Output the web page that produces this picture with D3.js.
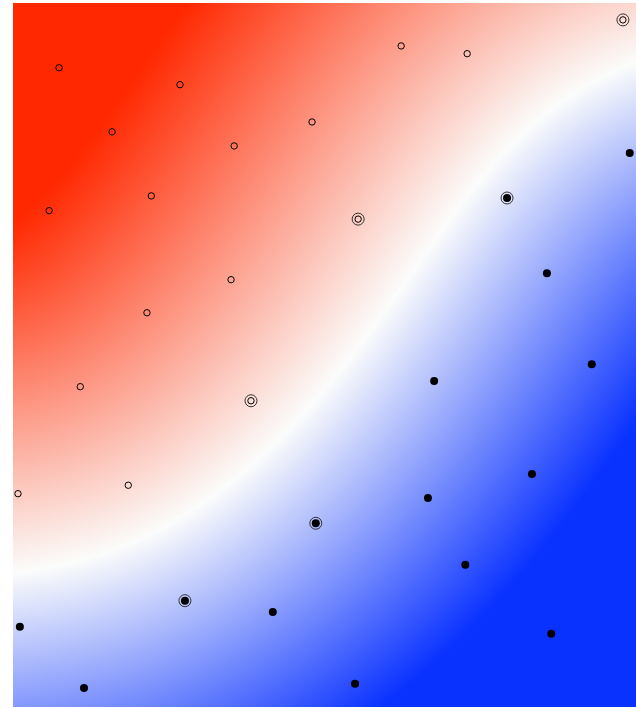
<!DOCTYPE html>
<html>
<head>
<meta charset="utf-8">
<script src="https://cdn.jsdelivr.net/npm/d3@7"></script>
<style>
  body { margin: 0; background: #fff; }
  svg { display: block; }
</style>
</head>
<body>
<svg id="chart"></svg>
<script>
// class 1 (open circles)
const redX = [0.74, 2.68, 1.59, 3.55, 2.22, 0.58, 4.80, 6.23, 7.29, 9.79, 5.54, 3.50, 2.15, 1.08, 3.82, 0.08, 1.85]
const redY = [9.08, 8.84, 8.17, 7.97, 7.26, 7.05, 8.31, 9.39, 9.28, 9.76, 6.93, 6.07, 5.60, 4.55, 4.35, 3.03, 3.15]
const redSupport = [9, 10, 14]

// class 2 (filled dots)
const blueX = [9.90, 7.93, 8.57, 9.29, 6.76, 8.33, 6.66, 4.86, 7.26, 2.76, 4.17, 0.11, 8.64, 1.14, 5.49]
const blueY = [7.87, 7.23, 6.16, 4.87, 4.63, 3.31, 2.97, 2.61, 2.02, 1.51, 1.35, 1.14, 1.04, 0.27, 0.33]
const blueSupport = [1, 7, 9]

const width = 636
const height = 708
const plot = { left: 13, top: 3, right: 636, bottom: 707 }

const svg = d3.select("#chart").attr("width", width).attr("height", height)

const x = d3.scaleLinear().domain([0, 10]).range([plot.left, plot.right])
const y = d3.scaleLinear().domain([0, 10]).range([plot.bottom, plot.top])

const points = [
  ...redX.map((v, i) => ({ x: v, y: redY[i], cls: 1, sv: redSupport.includes(i) })),
  ...blueX.map((v, i) => ({ x: v, y: blueY[i], cls: -1, sv: blueSupport.includes(i) })),
]

// decision function: gaussian kernel vote of the labelled points
const sigma = 2.2
const decision = (px, py) =>
  d3.sum(points, (p) => {
    const d2 = (px - p.x) ** 2 + (py - p.y) ** 2
    return p.cls * Math.exp(-d2 / (2 * sigma * sigma))
  })

const pw = plot.right - plot.left
const ph = plot.bottom - plot.top

// zero level of the decision function, traced on a coarse grid
const step = 4
const nx = Math.ceil(pw / step) + 1
const ny = Math.ceil(ph / step) + 1
const grid = new Float64Array(nx * ny)
for (let j = 0; j < ny; j++)
  for (let i = 0; i < nx; i++)
    grid[j * nx + i] = decision(x.invert(plot.left + i * step), y.invert(plot.top + j * step))

const zero = d3.contours().size([nx, ny]).thresholds([0])(grid)[0]
const segs = []
const onBorder = (p) => p[0] <= 0.5 || p[1] <= 0.5 || p[0] >= nx - 0.5 || p[1] >= ny - 0.5
zero.coordinates.forEach((poly) =>
  poly.forEach((ring) => {
    for (let k = 1; k < ring.length; k++) {
      const a = ring[k - 1]
      const b = ring[k]
      if (onBorder(a) && onBorder(b)) continue
      segs.push([(a[0] - 0.5) * step, (a[1] - 0.5) * step, (b[0] - 0.5) * step, (b[1] - 0.5) * step])
    }
  })
)

const distTo = (px, py) => {
  let best = Infinity
  for (const [ax, ay, bx, by] of segs) {
    const dx = bx - ax
    const dy = by - ay
    const len = dx * dx + dy * dy
    let t = len ? ((px - ax) * dx + (py - ay) * dy) / len : 0
    t = Math.max(0, Math.min(1, t))
    const ex = ax + t * dx - px
    const ey = ay + t * dy - py
    const d = ex * ex + ey * ey
    if (d < best) best = d
  }
  return Math.sqrt(best)
}

const color = d3
  .scaleDiverging(d3.piecewise(d3.interpolateRgb, ["#ff2800", "#fbfcfb", "#0a32ff"]))
  .domain([340, 0, -270])
  .clamp(true)

const canvas = document.createElement("canvas")
canvas.width = pw
canvas.height = ph
const ctx = canvas.getContext("2d")
const img = ctx.createImageData(pw, ph)
const cs = 2
for (let j = 0; j < ph; j += cs) {
  for (let i = 0; i < pw; i += cs) {
    const f = decision(x.invert(plot.left + i + 1), y.invert(plot.top + j + 1))
    const c = d3.rgb(color(Math.sign(f) * distTo(i + 1, j + 1)))
    for (let jj = j; jj < Math.min(j + cs, ph); jj++)
      for (let ii = i; ii < Math.min(i + cs, pw); ii++) {
        const k = (jj * pw + ii) * 4
        img.data[k] = c.r
        img.data[k + 1] = c.g
        img.data[k + 2] = c.b
        img.data[k + 3] = 255
      }
  }
}
ctx.putImageData(img, 0, 0)

svg
  .append("image")
  .attr("x", plot.left)
  .attr("y", plot.top)
  .attr("width", pw)
  .attr("height", ph)
  .attr("preserveAspectRatio", "none")
  .attr("href", canvas.toDataURL())

const marks = svg.append("g")

marks
  .selectAll("circle.sv")
  .data(points.filter((d) => d.sv))
  .join("circle")
  .attr("class", "sv")
  .attr("cx", (d) => x(d.x))
  .attr("cy", (d) => y(d.y))
  .attr("r", 6)
  .attr("fill", "none")
  .attr("stroke", "#333")
  .attr("stroke-width", 1)

marks
  .selectAll("circle.pt")
  .data(points)
  .join("circle")
  .attr("class", "pt")
  .attr("cx", (d) => x(d.x))
  .attr("cy", (d) => y(d.y))
  .attr("r", (d) => (d.cls === 1 ? 3.2 : 4))
  .attr("fill", (d) => (d.cls === 1 ? "none" : "#000"))
  .attr("stroke", "#000")
  .attr("stroke-width", (d) => (d.cls === 1 ? 1 : 0))
</script>
</body>
</html>
